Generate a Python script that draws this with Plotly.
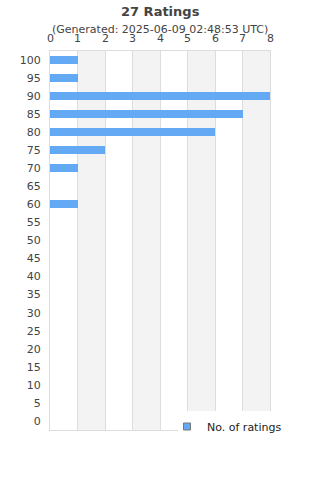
import plotly.graph_objects as go

ratings = [100, 95, 90, 85, 80, 75, 70, 65, 60, 55, 50, 45, 40, 35, 30, 25, 20, 15, 10, 5, 0]
counts = [1, 1, 8, 7, 6, 2, 1, 0, 1, 0, 0, 0, 0, 0, 0, 0, 0, 0, 0, 0, 0]
x_ticks = list(range(0, 9))
y_ticks = list(range(0, 101, 5))

font = "DejaVu Sans, Verdana, sans-serif"
bar_color = "#63a9f4"

fig = go.Figure()
fig.add_trace(go.Bar(
    x=counts, y=ratings, orientation="h", width=2.2,
    marker=dict(color=bar_color, line=dict(width=0)),
    name="No. of ratings", showlegend=False,
))
fig.add_trace(go.Scatter(
    x=[None], y=[None], mode="markers", name="No. of ratings",
    marker=dict(symbol="square", size=7, color=bar_color, line=dict(color="#777", width=1)),
    showlegend=True,
))

PH = 379.0
def py(px):
    return (430 - px) / PH

def pxx(px):
    return (px - 50) / 220.0

shapes = []
for k in range(1, 8, 2):
    shapes.append(dict(type="rect", xref="x", yref="paper", x0=k, x1=k + 1, y0=0, y1=1,
                       fillcolor="#f3f3f3", line=dict(width=0), layer="below"))
shapes.append(dict(type="rect", xref="paper", yref="paper", x0=pxx(178), x1=pxx(292),
                   y0=py(433), y1=py(411), fillcolor="white", line=dict(width=0), layer="above"))

annotations = [
    dict(text="<b>27 Ratings</b>", xref="paper", yref="paper", x=0.5, y=py(11),
         xanchor="center", yanchor="middle", showarrow=False,
         font=dict(size=13, color="#444", family=font)),
    dict(text="(Generated: 2025-06-09 02:48:53 UTC)", xref="paper", yref="paper", x=0.5, y=py(29),
         xanchor="center", yanchor="middle", showarrow=False,
         font=dict(size=11, color="#444", family=font)),
]
for t in x_ticks:
    annotations.append(dict(text=str(t), xref="x", yref="paper", x=t, y=py(38),
                            xanchor="center", yanchor="middle", showarrow=False,
                            font=dict(size=11, color="#444", family=font)))

fig.update_layout(
    width=320, height=480,
    margin=dict(l=50, r=50, t=51, b=50),
    paper_bgcolor="white", plot_bgcolor="white",
    font=dict(family=font, color="#444", size=11),
    annotations=annotations,
    xaxis=dict(side="top", range=[0, 8], tickvals=x_ticks, ticks="", showgrid=True,
               showticklabels=False,
               gridcolor="#dddddd", gridwidth=1, showline=True, linecolor="#dddddd",
               mirror=True, zeroline=False),
    yaxis=dict(range=[-2.5, 102.5], tickvals=y_ticks, ticks="", showgrid=False,
               showline=True, linecolor="#dddddd", mirror=True, zeroline=False,
               tickfont=dict(size=11, color="#444"), ticklabelstandoff=6),
    shapes=shapes,
    bargap=0,
    legend=dict(x=pxx(167), y=py(412), xanchor="left", yanchor="top", bgcolor="rgba(0,0,0,0)",
                font=dict(size=11, color="#222"), itemwidth=30, borderwidth=0),
)

fig.write_html("out.html")
